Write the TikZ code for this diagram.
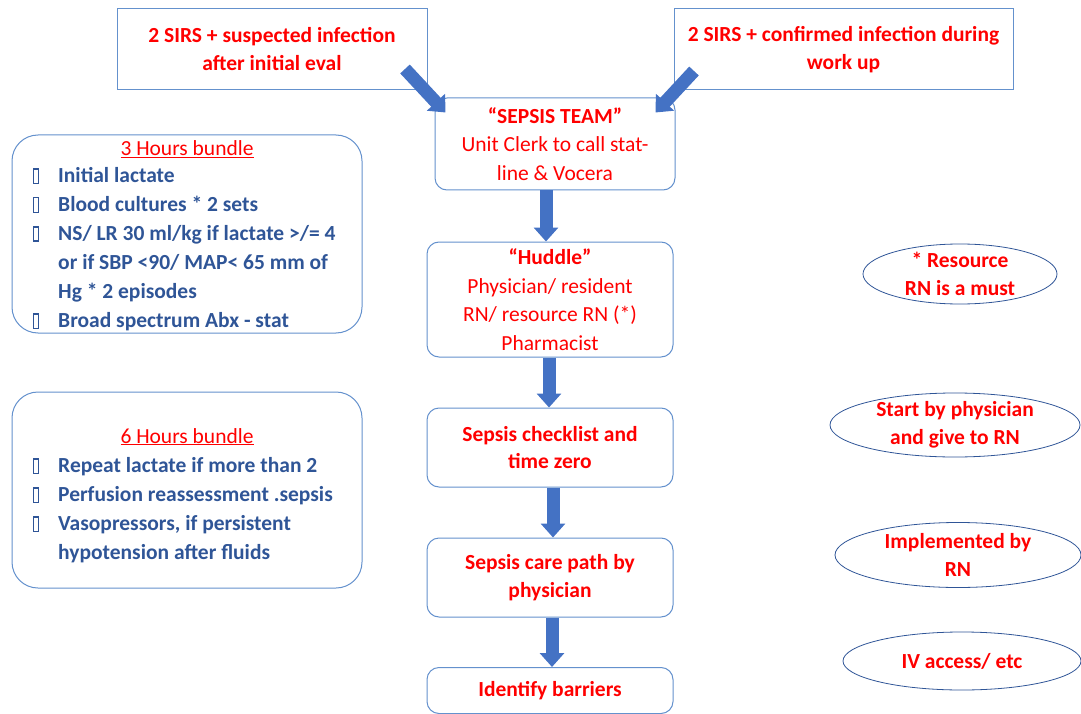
\documentclass[tikz,border=0pt]{standalone}
\usepackage{fontspec}
\setmainfont{Carlito}
\usetikzlibrary{arrows.meta,shapes.geometric,calc}
\definecolor{boxline}{RGB}{100,145,205}
\definecolor{elline}{RGB}{47,85,151}
\definecolor{txtblue}{RGB}{47,85,151}
\definecolor{arrowblue}{RGB}{68,114,196}
\definecolor{txtred}{RGB}{255,0,0}
\newcommand\sqbul{{\setlength\fboxsep{0pt}\setlength\fboxrule{1.1pt}\fbox{\rule{0pt}{13pt}\hspace{3.5pt}}}}
\begin{document}
\begin{tikzpicture}[x=1pt,y=-1pt,
  rbox/.style={draw=boxline, line width=1pt, rounded corners=12pt, minimum width=246pt, align=center, text=txtred, inner sep=0pt, font=\fontsize{21.5}{28.5}\selectfont},
  sbox/.style={draw=boxline, line width=1pt, minimum height=81pt, align=center, text=txtred, inner sep=0pt, font=\bfseries\fontsize{21.5}{28}\selectfont},
  bundle/.style={draw=boxline, line width=1pt, rounded corners=26pt, minimum width=350pt, minimum height=198pt, inner sep=0pt},
  ell/.style={draw=elline, ellipse, line width=0.8pt, inner sep=0pt},
  eltext/.style={text=txtred, align=center, inner sep=0pt, font=\bfseries\fontsize{21.5}{27.5}\selectfont},
  listtext/.style={anchor=base west, inner sep=0pt, text=txtblue, font=\bfseries\fontsize{21.5}{29}\selectfont},
  titletext/.style={anchor=base, inner sep=0pt, text=txtred, font=\fontsize{21.5}{29}\selectfont},
  barrow/.style={draw=arrowblue, line width=13pt, -{Triangle[width=24pt,length=14pt,fill=arrowblue]}}
]
\useasboundingbox (0,0) rectangle (1081,714);

% top boxes
\node[sbox, minimum width=310pt] (tl) at (272,49.5) {2 SIRS + suspected infection\\after initial eval};
\node[sbox, minimum width=339pt] (tr) at (843.5,49.5) {2 SIRS + confirmed infection during\\work up};

% central flow
\node[rbox, minimum width=240pt, minimum height=92pt] (team) at (555,144) {\textbf{“SEPSIS TEAM”}\\Unit Clerk to call stat-\\line \& Vocera};
\node[rbox, minimum height=115pt] (huddle) at (550,299.5) {\textbf{“Huddle”}\\Physician/ resident\\RN/ resource RN (*)\\Pharmacist};
\node[rbox, minimum height=79pt, font=\bfseries\fontsize{21.5}{27.5}\selectfont] (check) at (550,447.5) {Sepsis checklist and\\time zero};
\node[rbox, minimum height=79pt, font=\bfseries\fontsize{21.5}{27.5}\selectfont] (care) at (550,577.5) {Sepsis care path by\\physician};
\node[rbox, minimum height=46pt, font=\bfseries\fontsize{21.5}{27.5}\selectfont] (barr) at (550,690.5) {Identify barriers};

% arrows
\coordinate (la) at (405,69);
\coordinate (ra) at (694,71);
\draw[barrow] (la) -- ($(team.north west)+(11,15)$);
\draw[barrow] (ra) -- ($(team.north east)+(-20,15)$);
\draw[barrow] (team.south -| 546,0) -- (huddle.north -| 546,0);
\draw[barrow] (huddle.south -| 549,0) -- (check.north -| 549,0);
\draw[barrow] (check.south -| 553,0) -- (care.north -| 553,0);
\draw[barrow] (care.south -| 552,0) -- (barr.north -| 552,0);

% bundles
\node[bundle] (b3) at (187,234) {};
\node[titletext] (b3t) at (187,156) {\underline{3 Hours bundle}};
\node[listtext] (b3l) at (33,182.5) {\begin{tabular}[t]{@{}p{25pt}@{}l@{}}
\sqbul & Initial lactate\\
\sqbul & Blood cultures * 2 sets\\
\sqbul & NS/ LR 30 ml/kg if lactate >/= 4\\
 & or if SBP <90/ MAP< 65 mm of\\
 & Hg * 2 episodes\\
\sqbul & Broad spectrum Abx - stat
\end{tabular}};

\node[bundle, minimum height=196pt] (b6) at (187,490) {};
\node[titletext] (b6t) at (187,443) {\underline{6 Hours bundle}};
\node[listtext] (b6l) at (33,472.5) {\begin{tabular}[t]{@{}p{25pt}@{}l@{}}
\sqbul & Repeat lactate if more than 2\\
\sqbul & Perfusion reassessment .sepsis\\
\sqbul & Vasopressors, if persistent\\
 & hypotension after fluids
\end{tabular}};

% ellipses
\node[ell, minimum width=194pt, minimum height=60pt] (e1) at (960,274) {};
\node[eltext] (e1t) at (e1.center) {* Resource\\RN is a must};
\node[ell, minimum width=250pt, minimum height=64pt] (e2) at (955,425) {};
\node[eltext] (e2t) at (e2.center) {Start by physician\\and give to RN};
\node[ell, minimum width=246pt, minimum height=65pt] (e3) at (958,555) {};
\node[eltext] (e3t) at (e3.center) {Implemented by\\RN};
\node[ell, minimum width=238pt, minimum height=58pt] (e4) at (962,661) {};
\node[eltext] (e4t) at (e4.center) {IV access/ etc};
\end{tikzpicture}
\end{document}
